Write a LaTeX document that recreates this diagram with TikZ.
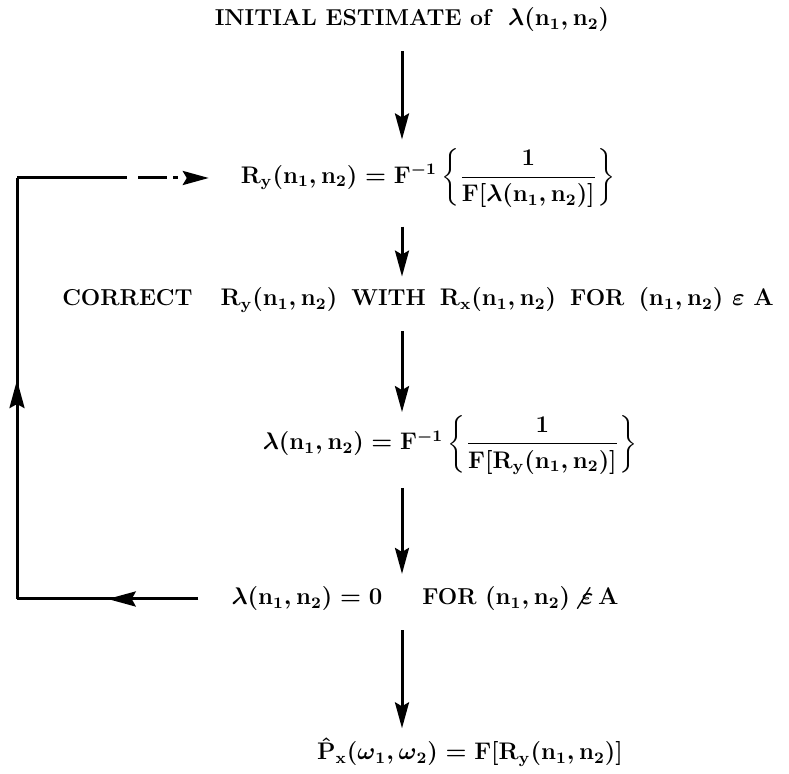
\documentclass[tikz,border=0pt]{standalone}
\usepackage{amsmath}
\usetikzlibrary{arrows.meta,decorations.markings}
\newcommand{\lam}{\boldsymbol{\lambda}}
\begin{document}
\begin{tikzpicture}[x=0.5pt,y=-0.5pt,
  every node/.style={font=\fontsize{11.5}{14}\selectfont\bfseries\boldmath},
  tip/.tip={Stealth[length=13pt,width=7pt,inset=2pt]},
  flow/.style={line width=1.5pt,-tip},
  wire/.style={line width=1.5pt},
  midtip/.style={wire,decoration={markings,mark=at position #1 with {\arrow{Stealth[length=14pt,width=7.5pt,inset=2pt]}}},postaction={decorate}}]
\useasboundingbox (0,0) rectangle (789,774);
\coordinate (c) at (402,0);
\node (init) at (412,20) {INITIAL ESTIMATE of\ \ $\lam\mathbf{(n_1,n_2)}$};
\node (ry) at (428,178) {$\mathbf{R_y(n_1,n_2) = F^{-1}}\left\{\dfrac{\mathbf{1}}{\mathbf{F[}\lam\mathbf{(n_1,n_2)]}}\right\}$};
\node (corr) at (418,300) {CORRECT\hspace{14pt}$\mathbf{R_y(n_1,n_2)}$\hspace{7pt}WITH\hspace{7pt}$\mathbf{R_x(n_1,n_2)}$\hspace{7pt}FOR\hspace{7pt}$\mathbf{(n_1,n_2)}\ \varepsilon\ \mathbf{A}$};
\node (lam) at (450,445) {$\lam\mathbf{(n_1,n_2) = F^{-1}}\left\{\dfrac{\mathbf{1}}{\mathbf{F[R_y(n_1,n_2)]}}\right\}$};
\node (lz) at (425,599) {$\lam\mathbf{(n_1,n_2) = 0}$\hspace{20pt}FOR\ $\mathbf{(n_1,n_2)}\!\not\varepsilon\,\mathbf{A}$};
\node (px) at (470,752) {$\hat{\mathbf{P}}_{\mathbf{x}}(\boldsymbol{\omega}_{\mathbf{1}},\boldsymbol{\omega}_{\mathbf{2}}) = \mathbf{F[R_y(n_1,n_2)]}$};
\coordinate (tl) at (17,178);
\coordinate (bl) at (17,599);
\draw[flow] ([yshift=-6pt]init.south -| c) -- ([yshift=1pt]ry.north -| c);
\draw[flow] ([yshift=-6pt]ry.south -| c) -- ([yshift=2pt]corr.north -| c);
\draw[flow] ([yshift=-6pt]corr.south -| c) -- ([yshift=-2pt]lam.north -| c);
\draw[flow] ([yshift=-3pt]lam.south -| c) -- ([yshift=3pt]lz.north -| c);
\draw[flow] ([yshift=-6pt]lz.south -| c) -- ([yshift=1pt]px.north -| c);
\draw[midtip=0.5] ([xshift=-13pt]lz.west) -- (bl);
\draw[midtip=0.52] (bl) -- (tl);
\draw[wire,dash pattern=on 55pt off 5.5pt on 14.5pt off 3pt on 2.5pt off 6pt,-tip] (tl) -- ([xshift=-12.5pt]ry.west);
\end{tikzpicture}
\end{document}
